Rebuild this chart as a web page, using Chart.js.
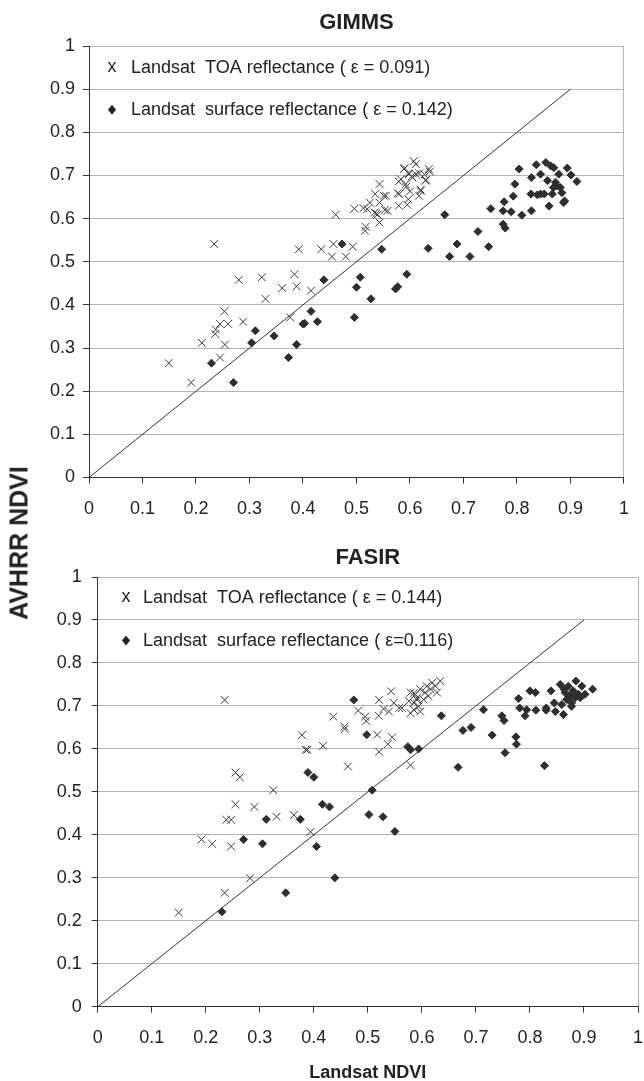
<!DOCTYPE html>
<html>
<head>
<meta charset="utf-8">
<script src="https://cdn.jsdelivr.net/npm/chart.js@4.4.1/dist/chart.umd.min.js"></script>
<style>
  html, body { margin: 0; padding: 0; background: #fff; overflow: hidden; }
  #page { position: relative; width: 644px; height: 1081px; overflow: hidden; }
  #gimms { position: absolute; left: 0; top: 0; }
  #fasir { position: absolute; left: 0; top: 520px; }
  #yTitle {
    position: absolute; left: 19px; top: 543px;
    transform: translate(-50%, -50%) rotate(-90deg);
    font: bold 25px 'Liberation Sans', Arial, sans-serif;
    color: #222; white-space: nowrap;
  }
</style>
</head>
<body>
<div id="page">
  <canvas id="gimms" width="644" height="520"></canvas>
  <canvas id="fasir" width="664" height="565"></canvas>
  <div id="yTitle">AVHRR NDVI</div>
</div>
<script>
// axis ticks
const tickValues = [0, 0.1, 0.2, 0.3, 0.4, 0.5, 0.6, 0.7, 0.8, 0.9, 1];
const tickLabels = ['0', '0.1', '0.2', '0.3', '0.4', '0.5', '0.6', '0.7', '0.8', '0.9', '1'];

// 1:1 line
const oneToOneX = [0, 0.9];
const oneToOneY = [0, 0.9];

// GIMMS panel
const gimmsLabels = ['Landsat  TOA reflectance ( \u03b5 = 0.091)', 'Landsat  surface reflectance ( \u03b5 = 0.142)'];
const gimmsToaX = [0.234, 0.149, 0.191, 0.211, 0.245, 0.236, 0.237, 0.245, 0.260, 0.253, 0.254, 0.288, 0.280, 0.323, 0.330,
  0.361, 0.384, 0.388, 0.415, 0.376, 0.392, 0.434, 0.457, 0.454, 0.480, 0.493, 0.461, 0.496, 0.516, 0.517, 0.543, 0.520,
  0.525, 0.534, 0.539, 0.543, 0.535, 0.551, 0.555, 0.543, 0.558, 0.579, 0.579, 0.595, 0.589, 0.611, 0.635, 0.629, 0.620,
  0.617, 0.580, 0.592, 0.598, 0.605, 0.583, 0.611, 0.607, 0.590, 0.597, 0.603, 0.617, 0.627, 0.630, 0.593, 0.600, 0.620,
  0.577, 0.597, 0.637, 0.513, 0.537, 0.553];
const gimmsToaY = [0.541, 0.265, 0.220, 0.312, 0.278, 0.333, 0.343, 0.356, 0.356, 0.385, 0.308, 0.361, 0.458, 0.464, 0.414,
  0.439, 0.471, 0.443, 0.433, 0.371, 0.529, 0.529, 0.541, 0.512, 0.512, 0.535, 0.609, 0.623, 0.572, 0.581, 0.591, 0.622,
  0.637, 0.614, 0.609, 0.680, 0.657, 0.653, 0.653, 0.637, 0.618, 0.686, 0.630, 0.632, 0.715, 0.726, 0.715, 0.688, 0.664,
  0.653, 0.657, 0.680, 0.703, 0.695, 0.691, 0.703, 0.733, 0.717, 0.705, 0.698, 0.705, 0.702, 0.690, 0.674, 0.663, 0.667,
  0.659, 0.645, 0.709, 0.624, 0.612, 0.620];
const gimmsSurfX = [0.270, 0.229, 0.304, 0.311, 0.346, 0.373, 0.388, 0.400, 0.403, 0.415, 0.427, 0.439, 0.473, 0.496, 0.500,
  0.507, 0.527, 0.547, 0.573, 0.577, 0.594, 0.634, 0.665, 0.674, 0.688, 0.712, 0.727, 0.747, 0.751, 0.774, 0.778, 0.774,
  0.776, 0.789, 0.793, 0.796, 0.804, 0.809, 0.827, 0.826, 0.827, 0.836, 0.844, 0.844, 0.854, 0.863, 0.869, 0.857, 0.860,
  0.872, 0.878, 0.881, 0.884, 0.887, 0.894, 0.901, 0.912, 0.866, 0.838, 0.851, 0.868, 0.875, 0.889];
const gimmsSurfY = [0.220, 0.265, 0.312, 0.340, 0.328, 0.278, 0.308, 0.356, 0.357, 0.385, 0.361, 0.458, 0.541, 0.371, 0.441,
  0.464, 0.414, 0.529, 0.437, 0.442, 0.471, 0.531, 0.609, 0.512, 0.541, 0.512, 0.570, 0.535, 0.623, 0.587, 0.578, 0.618,
  0.639, 0.616, 0.652, 0.680, 0.715, 0.608, 0.618, 0.657, 0.695, 0.725, 0.703, 0.657, 0.730, 0.722, 0.718, 0.688, 0.629,
  0.684, 0.703, 0.672, 0.660, 0.637, 0.717, 0.701, 0.686, 0.657, 0.655, 0.657, 0.672, 0.676, 0.641];

// FASIR panel
const fasirLabels = ['Landsat  TOA reflectance ( \u03b5 = 0.144)', 'Landsat  surface reflectance ( \u03b5=0.116)'];
const fasirToaX = [0.150, 0.235, 0.282, 0.192, 0.212, 0.247, 0.238, 0.247, 0.255, 0.290, 0.255, 0.263, 0.325, 0.331, 0.363,
  0.394, 0.378, 0.388, 0.385, 0.417, 0.436, 0.457, 0.457, 0.463, 0.482, 0.495, 0.497, 0.235, 0.517, 0.521, 0.537, 0.545,
  0.521, 0.520, 0.543, 0.529, 0.539, 0.548, 0.558, 0.579, 0.579, 0.585, 0.591, 0.634, 0.625, 0.616, 0.606, 0.597, 0.588,
  0.579, 0.576, 0.585, 0.594, 0.585, 0.597, 0.563, 0.609, 0.619, 0.628, 0.603, 0.591, 0.612];
const fasirToaY = [0.219, 0.265, 0.299, 0.389, 0.379, 0.373, 0.435, 0.435, 0.471, 0.465, 0.545, 0.534, 0.504, 0.442, 0.446,
  0.407, 0.632, 0.598, 0.598, 0.607, 0.675, 0.646, 0.652, 0.559, 0.689, 0.675, 0.665, 0.714, 0.633, 0.593, 0.611, 0.627,
  0.714, 0.677, 0.734, 0.693, 0.687, 0.707, 0.695, 0.562, 0.683, 0.730, 0.714, 0.758, 0.746, 0.739, 0.731, 0.739, 0.727,
  0.731, 0.711, 0.707, 0.699, 0.691, 0.687, 0.695, 0.746, 0.754, 0.731, 0.715, 0.719, 0.723];
const fasirSurfX = [0.230, 0.348, 0.270, 0.305, 0.312, 0.375, 0.405, 0.439, 0.416, 0.429, 0.389, 0.400, 0.508, 0.502, 0.528,
  0.550, 0.498, 0.474, 0.574, 0.579, 0.594, 0.636, 0.667, 0.676, 0.691, 0.714, 0.730, 0.748, 0.752, 0.754, 0.774, 0.775,
  0.779, 0.781, 0.791, 0.794, 0.800, 0.810, 0.811, 0.827, 0.830, 0.839, 0.847, 0.845, 0.856, 0.862, 0.859, 0.865, 0.871,
  0.877, 0.880, 0.885, 0.890, 0.896, 0.902, 0.916, 0.874, 0.868, 0.884, 0.893, 0.863, 0.877, 0.830];
const fasirSurfY = [0.221, 0.265, 0.389, 0.379, 0.436, 0.436, 0.373, 0.300, 0.471, 0.465, 0.545, 0.534, 0.504, 0.447, 0.442,
  0.408, 0.633, 0.714, 0.605, 0.598, 0.600, 0.677, 0.557, 0.643, 0.650, 0.691, 0.632, 0.677, 0.666, 0.591, 0.628, 0.611,
  0.717, 0.695, 0.677, 0.691, 0.735, 0.731, 0.690, 0.561, 0.690, 0.735, 0.687, 0.707, 0.750, 0.680, 0.703, 0.731, 0.746,
  0.707, 0.735, 0.758, 0.727, 0.746, 0.727, 0.739, 0.723, 0.715, 0.719, 0.719, 0.739, 0.699, 0.695];

const legendRows = [0.95, 0.852];

Chart.defaults.font.family = "'Liberation Sans', Arial, sans-serif";
Chart.defaults.color = '#222';

const toPoints = (xs, ys) => xs.map((x, i) => ({ x: x, y: ys[i] }));

// legend drawn inside the plot area, as in the original figure
const insideLegend = {
  id: 'insideLegend',
  afterDatasetsDraw(chart, args, opts) {
    const ctx = chart.ctx;
    const yScale = chart.scales.y;
    ctx.save();
    ctx.font = '18px ' + Chart.defaults.font.family;
    ctx.fillStyle = '#222';
    ctx.textBaseline = 'middle';
    legendRows.forEach((v, i) => {
      const ds = chart.data.datasets[i];
      const py = yScale.getPixelForValue(v);
      if (i === 0) {
        ctx.textAlign = 'center';
        ctx.fillText('x', opts.markerX, py - 1);
      } else {
        ctx.beginPath();
        ctx.moveTo(opts.markerX, py - 5);
        ctx.lineTo(opts.markerX + 4, py);
        ctx.lineTo(opts.markerX, py + 5);
        ctx.lineTo(opts.markerX - 4, py);
        ctx.closePath();
        ctx.fill();
      }
      ctx.textAlign = 'left';
      ctx.fillText(ds.label, opts.textX, py);
    });
    ctx.restore();
  }
};

function buildChart(id, cfg) {
  const axisFont = { size: 18 };
  return new Chart(document.getElementById(id), {
    type: 'scatter',
    data: {
      datasets: [
        {
          label: cfg.labels[0],
          data: toPoints(cfg.toaX, cfg.toaY),
          pointStyle: 'crossRot',
          pointRadius: 5.5,
          borderWidth: 1,
          borderColor: '#3a3a3a',
          backgroundColor: '#3a3a3a'
        },
        {
          label: cfg.labels[1],
          data: toPoints(cfg.surfX, cfg.surfY),
          pointStyle: 'rectRot',
          pointRadius: 4,
          borderWidth: 1,
          borderColor: '#2e2e2e',
          backgroundColor: '#2e2e2e'
        },
        {
          type: 'line',
          label: '1:1',
          data: toPoints(oneToOneX, oneToOneY),
          borderColor: '#333',
          borderWidth: 1,
          pointRadius: 0,
          fill: false
        }
      ]
    },
    options: {
      responsive: false,
      animation: false,
      layout: { padding: cfg.padding },
      plugins: {
        legend: { display: false },
        tooltip: { enabled: false },
        title: {
          display: true,
          text: cfg.title,
          fullSize: false,
          color: '#222',
          font: { size: 22, weight: 'bold' },
          padding: cfg.titlePadding
        },
        insideLegend: { markerX: cfg.markerX, textX: cfg.textX }
      },
      scales: {
        x: {
          type: 'linear',
          min: 0,
          max: 1,
          afterBuildTicks: (scale) => { scale.ticks = tickValues.map(v => ({ value: v })); },
          afterFit: (scale) => { scale.height = cfg.xHeight; },
          ticks: {
            autoSkip: false,
            maxRotation: 0,
            padding: 15,
            color: '#222',
            font: axisFont,
            callback: (v, i) => tickLabels[i]
          },
          grid: {
            color: (c) => (c.tick && c.tick.value === 1 ? '#b5b5b5' : 'rgba(0,0,0,0)'),
            tickColor: '#333',
            tickLength: 6,
            lineWidth: 1
          },
          border: { display: true, color: '#333', width: 1 },
          title: {
            display: !!cfg.xTitle,
            text: cfg.xTitle || '',
            color: '#222',
            font: { size: 18, weight: 'bold' },
            padding: { top: 0, bottom: 1 }
          }
        },
        y: {
          type: 'linear',
          min: 0,
          max: 1,
          afterBuildTicks: (scale) => { scale.ticks = tickValues.map(v => ({ value: v })); },
          afterFit: (scale) => { scale.width = cfg.yWidth; },
          ticks: {
            autoSkip: false,
            padding: cfg.yPad,
            color: '#222',
            font: axisFont,
            callback: (v, i) => tickLabels[i]
          },
          grid: {
            color: (c) => (c.tick && c.tick.value === 0 ? 'rgba(0,0,0,0)' : '#b5b5b5'),
            tickColor: '#333',
            tickLength: 6,
            lineWidth: 1
          },
          border: { display: true, color: '#333', width: 1 }
        }
      }
    },
    plugins: [insideLegend]
  });
}

buildChart('gimms', {
  title: 'GIMMS',
  labels: gimmsLabels,
  toaX: gimmsToaX, toaY: gimmsToaY,
  surfX: gimmsSurfX, surfY: gimmsSurfY,
  padding: { top: 9.8, left: 0, right: 13, bottom: 0 },
  titlePadding: { top: 0, bottom: 9.8 },
  xHeight: 42.5,
  yWidth: 89,
  yPad: 8,
  markerX: 112,
  textX: 131
});

buildChart('fasir', {
  title: 'FASIR',
  labels: fasirLabels,
  toaX: fasirToaX, toaY: fasirToaY,
  surfX: fasirSurfX, surfY: fasirSurfY,
  padding: { top: 25, left: 0, right: 26, bottom: 0 },
  titlePadding: { top: 0, bottom: 5.6 },
  xHeight: 78.3,
  yWidth: 97.7,
  yPad: 10,
  markerX: 126,
  textX: 143,
  xTitle: 'Landsat NDVI'
});
</script>
</body>
</html>
